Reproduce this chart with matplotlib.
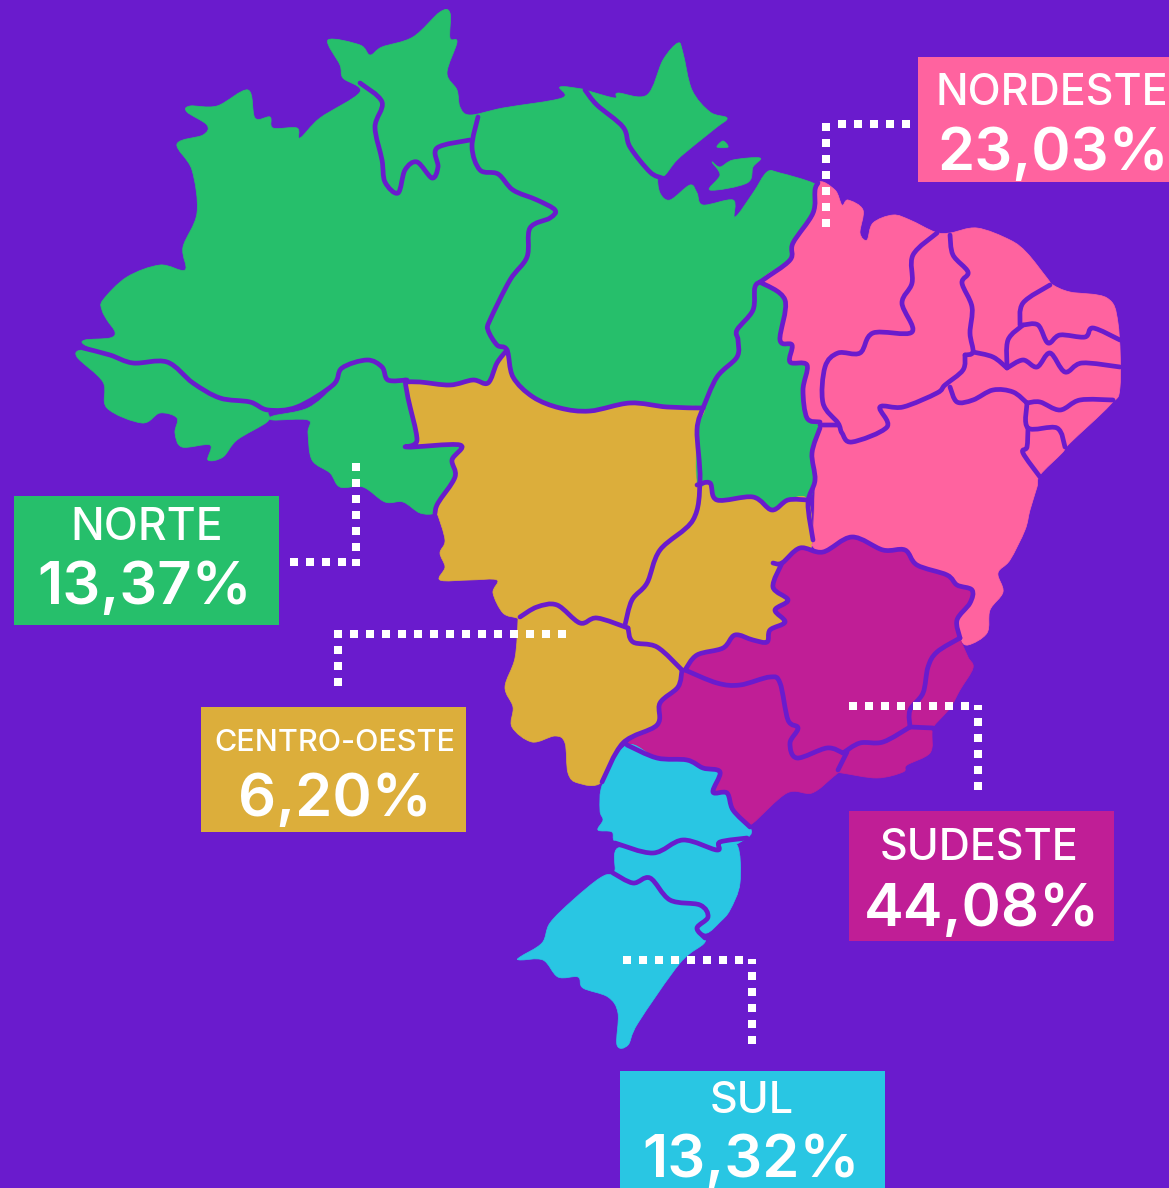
import matplotlib
matplotlib.use("Agg")
import matplotlib.pyplot as plt
from matplotlib.patches import Rectangle, PathPatch
from matplotlib.path import Path

# Colours
BG_COLOR = "#6a1bcd"
GREEN = "#26bf6b"
YELLOW = "#dcae3b"
PINK = "#ff639f"
MAGENTA = "#c01e96"
BLUE = "#29c6e3"

# Regions
region_names = ["NORDESTE", "NORTE", "CENTRO-OESTE", "SUDESTE", "SUL"]
region_values = ["23,03%", "13,37%", "6,20%", "44,08%", "13,32%"]

# Region outlines (pixels)
norte_main = [(103,300),(127,277),(160,265),(185,270),(183,247),(197,213),(192,170),(177,144),(203,135),(207,125),(187,112),(190,106),(217,106),(248,90),(255,118),(270,117),(273,128),(297,128),(300,138),(320,118),(360,92),(343,78),(340,65),(328,40),(360,45),(370,55),(382,47),(413,37),(440,12),(450,13),(450,38),(457,42),(447,73),(457,90),(460,107),(470,115),(503,108),(562,98),(560,87),(582,89),(585,90),(592,92),(615,98),(618,93),(647,95),(663,60),(678,43),(683,53),(692,90),(710,112),(727,118),(717,127),(697,143),(677,160),(665,175),(658,177),(660,193),(670,200),(690,185),(697,193),(703,205),(733,200),(735,217),(753,193),(767,172),(780,173),(813,183),(815,190),(813,217),(793,243),(790,260),(763,280),(755,287),(753,310),(737,330),(737,357),(717,377),(703,408),(667,407),(630,403),(590,411),(560,408),(533,397),(513,377),(507,350),(497,363),(488,383),(473,380),(450,385),(420,382),(388,380),(382,367),(367,360),(342,368),(333,385),(297,407),(268,410),(250,402),(220,398),(193,383),(167,362),(133,363),(110,355),(85,345),(85,340),(110,338),(115,332),(107,320),(102,310)]
marajo = [(712,162),(720,167),(733,160),(760,158),(753,167),(747,183),(710,190),(720,175)]
ilhota = [(717,147),(723,141),(728,147)]
acre = [(77,357),(83,350),(110,355),(133,363),(167,362),(193,383),(220,398),(250,402),(268,410),(268,413),(267,422),(237,440),(223,457),(208,460),(210,445),(182,447),(175,433),(177,418),(160,413),(142,423),(107,408),(103,382)]
rondonia = [(273,416),(308,408),(333,387),(342,368),(367,360),(382,367),(388,380),(407,380),(408,398),(417,440),(407,447),(460,445),(452,460),(455,477),(438,503),(435,513),(420,513),(403,502),(385,502),(363,487),(340,487),(330,473),(312,460),(308,433),(308,420),(273,420)]
tocantins = [(763,280),(785,300),(780,340),(792,345),(790,362),(807,365),(803,390),(807,418),(820,427),(812,453),(815,480),(808,500),(788,500),(772,510),(753,497),(717,500),(710,483),(697,485),(697,430),(703,408),(717,377),(737,357),(737,330),(753,310),(755,287)]
centro_oeste = [(408,383),(420,382),(450,385),(473,380),(488,383),(497,363),(507,350),(513,377),(533,397),(560,408),(590,411),(630,403),(667,407),(703,408),(697,430),(697,485),(710,483),(717,500),(753,497),(772,510),(788,500),(808,500),(812,545),(800,548),(782,563),(773,587),(788,600),(775,610),(785,622),(770,630),(767,642),(753,640),(735,635),(723,648),(697,655),(685,670),(678,687),(660,703),(657,725),(623,743),(602,782),(578,783),(568,773),(565,743),(555,736),(532,742),(512,727),(513,707),(505,687),(515,658),(518,620),(517,618),(503,613),(493,593),(497,580),(470,580),(440,580),(445,567),(440,553),(445,540),(437,513),(435,513),(438,503),(455,477),(452,460),(460,445),(407,447),(417,440),(408,398)]
nordeste = [(763,280),(790,260),(793,243),(813,217),(818,183),(835,190),(842,205),(848,200),(863,210),(860,233),(867,240),(873,223),(893,215),(910,220),(935,232),(950,233),(977,228),(1010,240),(1027,253),(1047,278),(1053,285),(1070,292),(1107,298),(1118,323),(1120,387),(1110,405),(1070,443),(1062,453),(1040,475),(1037,487),(1030,510),(1025,530),(1010,560),(998,573),(1003,592),(990,610),(987,633),(968,645),(960,638),(957,620),(970,603),(972,590),(957,585),(947,575),(917,565),(905,550),(883,550),(852,537),(823,552),(812,545),(813,540),(815,480),(812,453),(820,427),(807,418),(803,390),(807,365),(790,362),(792,345),(780,340),(785,300)]
sudeste = [(685,670),(697,655),(723,648),(735,635),(753,640),(767,642),(770,630),(785,622),(775,610),(788,600),(773,587),(782,563),(800,548),(823,552),(852,537),(883,550),(905,550),(917,565),(947,575),(957,585),(972,590),(970,603),(957,620),(960,638),(968,657),(973,668),(960,690),(950,708),(933,727),(932,733),(930,753),(907,765),(903,772),(877,778),(842,773),(838,773),(833,777),(812,793),(787,793),(753,823),(747,822),(733,810),(727,793),(713,792),(720,772),(703,768),(687,760),(657,758),(627,745),(657,725),(660,703),(678,687)]
parana = [(627,745),(657,758),(687,760),(703,768),(720,772),(713,792),(727,793),(733,810),(750,827),(747,838),(717,850),(683,840),(653,853),(617,843),(612,832),(598,830),(603,820),(600,810),(603,783)]
santa_catarina = [(618,848),(653,853),(683,840),(717,850),(737,845),(740,883),(730,910),(720,922),(707,933),(697,928),(708,917),(700,905),(670,900),(650,878),(633,883),(613,873),(615,870)]
rio_grande = [(600,878),(613,875),(633,883),(650,878),(670,900),(700,905),(708,917),(697,930),(705,942),(680,963),(638,1023),(628,1045),(617,1045),(618,1013),(608,997),(583,988),(578,977),(558,977),(543,960),(520,960),(520,957),(542,943),(550,923),(573,900)]

shapes = [
    (norte_main, GREEN), (marajo, GREEN), (ilhota, GREEN), (acre, GREEN), (rondonia, GREEN), (tocantins, GREEN),
    (centro_oeste, YELLOW), (nordeste, PINK), (sudeste, MAGENTA),
    (parana, BLUE), (santa_catarina, BLUE), (rio_grande, BLUE),
]

# State borders, drawn over the fills
borders = [
    [(360,83),(382,102),(375,127),(382,160),(385,182),(398,193),(405,170),(417,162),(432,178),(438,167),(437,148),(470,140)],
    [(478,117),(472,147),(480,170),(498,174),(513,190),(537,200),(555,210),(550,218),(530,228),(527,257),(510,280),(490,320),(488,330),(497,345),(507,350),(513,377),(533,397),(560,408),(590,411),(630,403),(667,407),(703,408)],
    [(585,90),(597,105),(623,127),(630,147),(650,172),(662,178)],
    [(83,348),(110,355),(133,363),(167,362),(193,383),(220,398),(250,402),(268,410),(297,407),(333,385),(342,368),(367,360),(382,367),(388,380),(407,380)],
    [(407,382),(420,382),(450,385),(473,380),(488,383),(497,363),(507,350)],
    [(405,380),(408,398),(417,440),(407,447),(460,445),(452,460),(455,477),(438,503),(435,513)],
    [(703,408),(697,430),(700,480),(693,520),(660,550),(647,583),(632,600),(625,625)],
    [(703,408),(717,377),(737,357),(738,340),(737,330),(753,310),(755,287),(763,280),(790,260),(793,243),(813,213),(815,190),(818,183)],
    [(760,282),(785,300),(780,340),(792,345),(790,362),(807,365),(803,390),(807,418),(820,422)],
    [(820,428),(812,453),(815,480),(808,503),(813,540)],
    [(697,485),(710,483),(717,500),(753,497),(772,510),(788,500),(808,500)],
    [(773,563),(782,563),(800,548),(823,552),(852,537),(883,550),(905,550),(917,565),(947,575),(957,585),(972,590),(970,603),(957,620),(960,638)],
    [(782,563),(773,587),(788,600),(775,610),(785,622),(770,630),(767,642),(753,640),(735,635),(723,648),(697,655),(685,670)],
    [(685,670),(717,683),(740,685),(770,677),(780,683),(788,720),(798,728),(790,743),(797,758),(827,748),(843,753)],
    [(843,753),(860,743),(883,742),(910,727)],
    [(960,638),(937,652),(928,667),(923,693),(910,710),(910,727)],
    [(910,727),(933,728)],
    [(847,752),(838,770)],
    [(628,628),(633,642),(657,647),(682,670)],
    [(520,617),(537,607),(557,605),(580,623),(597,618),(628,628)],
    [(682,670),(678,687),(660,703),(657,725),(623,743),(602,782)],
    [(627,745),(657,758),(687,760),(703,768),(720,772),(713,792),(727,793),(733,810),(750,827)],
    [(615,843),(653,853),(683,840),(717,850),(720,842),(747,838)],
    [(613,873),(633,883),(650,878),(670,900),(700,905),(708,917),(697,928),(705,938)],
    [(937,233),(913,255),(912,283),(902,303),(912,332),(873,333),(860,353),(838,353),(825,367),(823,403),(838,423),(842,433),(852,442),(887,427),(880,407),(903,407),(937,393),(945,385),(963,370),(965,355)],
    [(820,425),(838,425)],
    [(950,235),(953,255),(968,272),(962,283),(972,307),(970,333),(973,352),(965,355)],
    [(950,387),(957,402),(973,400),(993,390),(1013,392),(1027,403)],
    [(1027,403),(1040,402),(1060,410),(1080,400),(1113,400)],
    [(1027,403),(1028,428),(1057,428),(1065,447)],
    [(1028,428),(1027,447),(1023,453),(1040,477)],
    [(973,352),(993,357),(1007,368)],
    [(1007,368),(1023,360),(1037,367),(1050,353),(1065,372),(1082,363),(1120,367)],
    [(1007,367),(1008,340),(1023,325)],
    [(1050,285),(1023,303),(1020,325)],
    [(1023,325),(1038,325),(1048,343),(1060,335),(1085,337),(1093,328),(1120,340)],
]

# Dotted leaders, each drawn from its outer end towards the corner
leaders = [
    ([826, 826], [227, 120]),
    ([910, 832], [124, 124]),
    ([356, 356], [463, 566]),
    ([290, 352], [562, 562]),
    ([338, 338], [686, 630]),
    ([566, 344], [634, 634]),
    ([849, 972], [706, 706]),
    ([978, 978], [790, 705]),
    ([623, 745], [960, 960]),
    ([752, 752], [1044, 959]),
]


def smooth_path(points, closed=False):
    """Catmull-Rom through the traced points as bezier segments"""
    n = len(points)
    verts = [points[0]]
    codes = [Path.MOVETO]
    for i in range(n if closed else n - 1):
        if closed:
            p0, p1, p2, p3 = points[i - 1], points[i], points[(i + 1) % n], points[(i + 2) % n]
        else:
            p0, p1, p2, p3 = points[max(i - 1, 0)], points[i], points[i + 1], points[min(i + 2, n - 1)]
        verts.append((p1[0] + (p2[0] - p0[0]) / 6, p1[1] + (p2[1] - p0[1]) / 6))
        verts.append((p2[0] - (p3[0] - p1[0]) / 6, p2[1] - (p3[1] - p1[1]) / 6))
        verts.append(p2)
        codes += [Path.CURVE4, Path.CURVE4, Path.CURVE4]
    return Path(verts, codes)


plt.rcParams['font.family'] = ['Inter', 'DejaVu Sans']

fig = plt.figure(figsize=(11.69, 11.88), dpi=100, facecolor=BG_COLOR)
ax = fig.add_axes([0, 0, 1, 1])
ax.set_xlim(0, 1169)
ax.set_ylim(1188, 0)
ax.axis("off")

for outline, color in shapes:
    ax.add_patch(PathPatch(smooth_path(outline, closed=True), facecolor=color, edgecolor=color,
                           linewidth=0.5, joinstyle="round"))

for line in borders:
    ax.add_patch(PathPatch(smooth_path(line), facecolor="none", edgecolor=BG_COLOR,
                           linewidth=3.4, capstyle="round", joinstyle="round", zorder=2))

# Label boxes: x0, y0, x1, y1, colour, name size, name x, name baseline, value x, value baseline
boxes = [
    (918, 57, 1169, 182, PINK, 31, 1052, 105, 1053, 170),
    (14, 496, 279, 625, GREEN, 32, 147, 540, 145, 604),
    (201, 707, 466, 832, YELLOW, 22, 335, 751, 335, 816),
    (849, 811, 1114, 941, MAGENTA, 31, 979, 860, 982, 926),
    (620, 1071, 885, 1188, BLUE, 31, 752, 1113, 751, 1177),
]
for name, value, (x0, y0, x1, y1, color, name_size, name_x, name_y, value_x, value_y) in zip(region_names, region_values, boxes):
    ax.add_patch(Rectangle((x0, y0), x1 - x0, y1 - y0, facecolor=color, edgecolor="none", zorder=3))
    ax.text(name_x, name_y, name, color="white", fontsize=name_size, fontweight="medium",
            ha="center", va="baseline", zorder=4, clip_on=True)
    ax.text(value_x, value_y, value, color="white", fontsize=43, fontweight="semibold",
            ha="center", va="baseline", zorder=4, clip_on=True)

for xs, ys in leaders:
    ax.plot(xs, ys, color="white", linewidth=5.76, linestyle=(0, (1, 1)),
            dash_capstyle="butt", zorder=5)

fig.savefig("out.png", dpi=100, facecolor=BG_COLOR)
